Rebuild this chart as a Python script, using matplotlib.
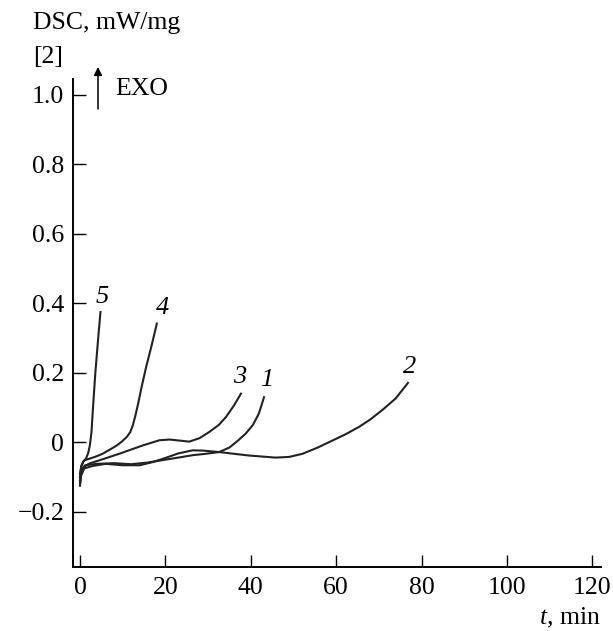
import numpy as np
import matplotlib
matplotlib.use("Agg")
import matplotlib.pyplot as plt

plt.rcParams['font.family'] = ['Liberation Serif', 'DejaVu Serif']
plt.rcParams['mathtext.fontset'] = 'custom'
plt.rcParams['mathtext.rm'] = 'Liberation Serif'
plt.rcParams['mathtext.it'] = 'Liberation Serif:italic'

# DSC curves, t (min) vs signal (mW/mg)
t1 = [0.0, 0.4, 1.2, 4, 8, 12, 16, 20, 24, 26.4, 29.5, 32.6, 35, 37, 38.8, 40.5, 41.9, 43.1]
y1 = [-0.11, -0.08, -0.066, -0.062, -0.06, -0.063, -0.058, -0.05, -0.042, -0.037, -0.033,
      -0.028, -0.015, 0.005, 0.025, 0.05, 0.083, 0.13]

t2 = [0.0, 0.3, 1.0, 3, 6, 10, 14, 17, 20, 23, 26.4, 29, 32.6, 36, 39.6, 45.8, 49, 52.1,
      55.5, 59.1, 62, 65.3, 68, 70.7, 73.9, 76.8]
y2 = [-0.125, -0.095, -0.075, -0.068, -0.062, -0.066, -0.066, -0.057, -0.045, -0.032,
      -0.023, -0.024, -0.028, -0.033, -0.038, -0.044, -0.042, -0.033, -0.016, 0.005,
      0.022, 0.044, 0.066, 0.092, 0.126, 0.171]

t3 = [0.0, 0.3, 1.0, 2.2, 5, 9.2, 14.7, 18.6, 21, 25.6, 28, 30.3, 32.5, 34.2, 36, 37.7]
y3 = [-0.12, -0.085, -0.07, -0.061, -0.05, -0.033, -0.009, 0.006, 0.008, 0.002, 0.012,
      0.03, 0.05, 0.073, 0.105, 0.14]

t4 = [0.0, 0.4, 1.0, 2, 3.5, 5.3, 7, 8.5, 9.8, 11, 11.8, 12.4, 13.0, 13.6, 14.5, 15.5,
      16.8, 18.0]
y4 = [-0.09, -0.065, -0.052, -0.048, -0.042, -0.033, -0.021, -0.01, 0.002, 0.016, 0.03,
      0.05, 0.078, 0.11, 0.163, 0.217, 0.28, 0.342]

t5 = [0.0, 0.3, 0.8, 1.4, 1.9, 2.3, 2.7, 3.0, 3.6, 4.2, 4.8]
y5 = [-0.10, -0.07, -0.055, -0.047, -0.032, -0.01, 0.03, 0.09, 0.2, 0.29, 0.375]

curve_names = ['1', '2', '3', '4', '5']
label_x = [43.7, 77.2, 37.4, 19.3, 5.3]
label_y = [0.179, 0.217, 0.188, 0.387, 0.418]

x_ticks = [0, 20, 40, 60, 80, 100, 120]
y_ticks = [-0.2, 0, 0.2, 0.4, 0.6, 0.8, 1.0]
y_tick_labels = ['\u22120.2', '0', '0.2', '0.4', '0.6', '0.8', '1.0']

fs = 18.5

fig = plt.figure(figsize=(6.13, 6.31), dpi=100)
ax = fig.add_axes([0.1186, 0.1014, 0.9804 - 0.1186, 0.8748 - 0.1014])

for t, y in [(t1, y1), (t2, y2), (t3, y3), (t4, y4), (t5, y5)]:
    ax.plot(t, y, color='#222222', lw=1.5)

for name, lx, ly in zip(curve_names, label_x, label_y):
    ax.text(lx, ly, name, fontsize=19, fontstyle='italic', ha='center', va='center')

ax.set_xlim(-1.7, 122.0)
ax.set_ylim(-0.359, 1.046)
ax.set_xticks(x_ticks)
ax.set_yticks(y_ticks)
ax.set_yticklabels(y_tick_labels)
ax.tick_params(direction='in', length=9, width=1, labelsize=fs)
ax.tick_params(axis='y', pad=6)
ax.tick_params(axis='x', pad=7)
for side in ['top', 'right']:
    ax.spines[side].set_visible(False)
for side in ['left', 'bottom']:
    ax.spines[side].set_linewidth(1.4)

fig.text(33 / 613, 1 - 23 / 631, 'DSC, mW/mg', fontsize=fs, ha='left', va='center')
fig.text(33 / 613, 1 - 57 / 631, '[2]', fontsize=fs, ha='left', va='center')
fig.text(115 / 613, 1 - 89 / 631, 'EXO', fontsize=fs, ha='left', va='center')
ax.annotate('', xy=(98 / 613, 1 - 67 / 631), xytext=(98 / 613, 1 - 109 / 631),
            xycoords='figure fraction', textcoords='figure fraction',
            arrowprops=dict(arrowstyle='-|>', color='black', lw=1.1,
                            mutation_scale=12, shrinkA=0, shrinkB=0))
fig.text(601 / 613, 1 - 618 / 631, '$t$, min', fontsize=fs, ha='right', va='center')

fig.savefig('out.png', dpi=100)
